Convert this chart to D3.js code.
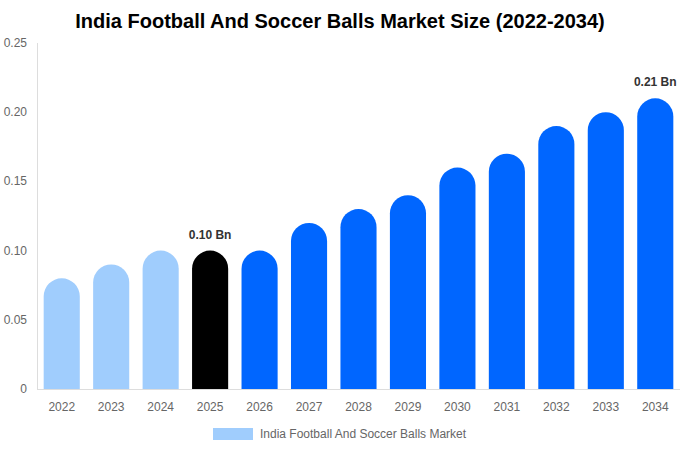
<!DOCTYPE html>
<html><head><meta charset="utf-8">
<script src="https://cdn.jsdelivr.net/npm/d3@7"></script>
<style>body{margin:0;background:#fff;font-family:"Liberation Sans",Arial,sans-serif;}</style>
</head><body><svg id="c" width="680" height="450"></svg>
<script>
const years = ["2022","2023","2024","2025","2026","2027","2028","2029","2030","2031","2032","2033","2034"];
const values = [0.08,0.09,0.10,0.10,0.10,0.12,0.13,0.14,0.16,0.17,0.19,0.20,0.21];
const yTicks = [0,0.05,0.10,0.15,0.20,0.25];
const labelled = {"2025":"0.10 Bn","2034":"0.21 Bn"};
const colorPast = "#a0cdfd", colorNow = "#000000", colorFuture = "#0066ff";

const svg = d3.select("#c");
const m = {l:37, r:0, t:43, b:61};
const W = 680, H = 450;
const x = d3.scaleBand().domain(years).range([m.l, W-m.r]).paddingInner(0.27).paddingOuter(0.135);
const y = d3.scaleLinear().domain([0,0.25]).range([H-m.b, m.t]);

svg.append("text").attr("x",340).attr("y",28).attr("text-anchor","middle")
  .attr("font-size",20).attr("font-weight","bold").attr("fill","#000")
  .text("India Football And Soccer Balls Market Size (2022-2034)");

// axes lines
svg.append("line").attr("x1",m.l+0.5).attr("x2",m.l+0.5).attr("y1",m.t).attr("y2",y(0)).attr("stroke","#ddd");
svg.append("line").attr("x1",m.l).attr("x2",W).attr("y1",y(0)+0.5).attr("y2",y(0)+0.5).attr("stroke","#ddd");

svg.selectAll(".yt").data(yTicks).enter().append("text")
  .attr("x",27).attr("y",d=>y(d)+4).attr("text-anchor","end")
  .attr("font-size",12).attr("fill","#666")
  .text(d=>d===0?"0":d.toFixed(2));

svg.selectAll(".xt").data(years).enter().append("text")
  .attr("x",d=>x(d)+x.bandwidth()/2).attr("y",y(0)+22).attr("text-anchor","middle")
  .attr("font-size",12).attr("fill","#666").text(d=>d);

function barPath(x0,w,top,bottom){
  const r = Math.min(w/2, bottom-top);
  return `M${x0},${bottom}L${x0},${top+r}A${r},${r} 0 0 1 ${x0+w},${top+r}L${x0+w},${bottom}Z`;
}
const data = years.map((d,i)=>({year:d,value:values[i],i}));
svg.selectAll(".bar").data(data).enter().append("path")
  .attr("d",d=>barPath(x(d.year),x.bandwidth(),y(d.value),y(0)))
  .attr("fill",d=>d.year<"2025"?colorPast:(d.year==="2025"?colorNow:colorFuture));

svg.selectAll(".lab").data(data.filter(d=>labelled[d.year])).enter().append("text")
  .attr("x",d=>x(d.year)+x.bandwidth()/2).attr("y",d=>y(d.value)-12)
  .attr("text-anchor","middle").attr("font-size",12).attr("font-weight","bold").attr("fill","#333")
  .text(d=>labelled[d.year]);

// legend
svg.append("rect").attr("x",213).attr("y",428).attr("width",40).attr("height",12).attr("fill",colorPast);
svg.append("text").attr("x",260).attr("y",437.5).attr("font-size",12).attr("fill","#666")
  .text("India Football And Soccer Balls Market");
</script></body></html>
